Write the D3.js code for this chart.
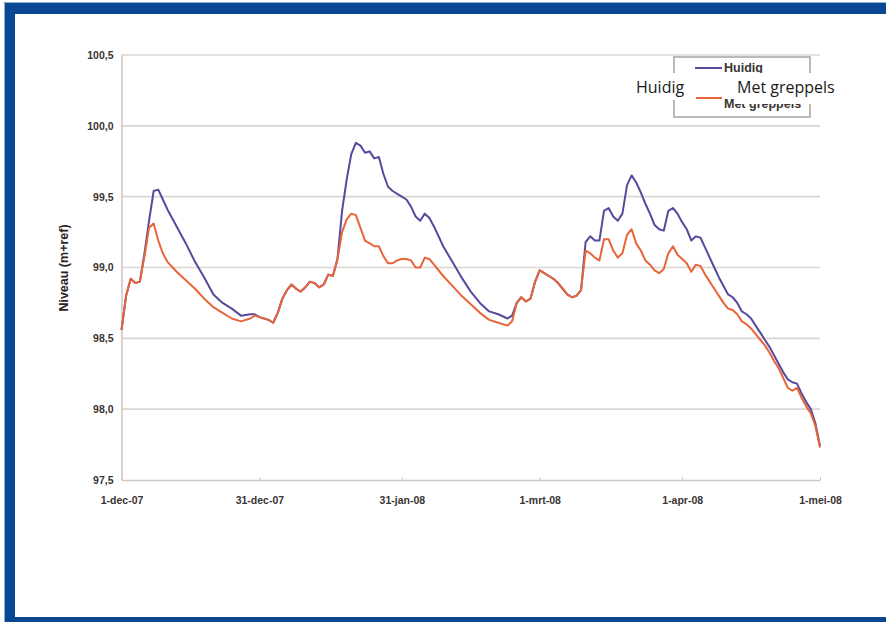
<!DOCTYPE html>
<html>
<head>
<meta charset="utf-8">
<script src="https://cdn.jsdelivr.net/npm/d3@7"></script>
<style>
  html, body { margin: 0; padding: 0; background: #fff; }
  svg { display: block; }
</style>
</head>
<body>
<svg id="chart" width="886" height="622"></svg>
<script>
// ---- data ----
const startDate = "2007-12-01";
const dayOffsets = [0,1,2,3,4,5,6,7,8,9,10,12,14,16,18,20,22,24,26,28,29,30,31,32,33,34,35,36,37,38,39,40,41,42,43,44,45,46,47,48,49,50,51,52,53,54,55,56,57,58,59,60,61,62,63,64,65,66,67,68,70,72,74,76,78,80,82,84,85,86,87,88,89,90,91,92,93,94,95,96,97,98,99,100,101,102,103,104,105,106,107,108,109,110,111,112,113,114,115,116,117,118,119,120,121,122,123,124,125,126,127,128,129,130,131,132,133,134,135,136,137,138,139,140,141,142,143,144,145,146,147,148,149,150,151,152];
const huidig = [98.56,98.80,98.92,98.89,98.90,99.10,99.33,99.54,99.55,99.48,99.41,99.29,99.17,99.04,98.93,98.81,98.75,98.71,98.66,98.67,98.67,98.65,98.64,98.63,98.61,98.68,98.78,98.84,98.88,98.85,98.83,98.86,98.90,98.89,98.86,98.88,98.95,98.94,99.06,99.40,99.62,99.80,99.88,99.86,99.81,99.82,99.77,99.78,99.66,99.57,99.54,99.52,99.50,99.48,99.43,99.36,99.33,99.38,99.35,99.29,99.15,99.04,98.93,98.83,98.75,98.69,98.67,98.64,98.66,98.75,98.79,98.76,98.78,98.90,98.98,98.96,98.94,98.92,98.89,98.85,98.81,98.79,98.80,98.84,99.18,99.22,99.19,99.19,99.40,99.42,99.36,99.33,99.38,99.58,99.65,99.60,99.53,99.45,99.38,99.30,99.27,99.26,99.40,99.42,99.38,99.32,99.27,99.19,99.22,99.21,99.14,99.07,99.00,98.93,98.87,98.81,98.79,98.75,98.69,98.67,98.64,98.59,98.54,98.49,98.44,98.38,98.32,98.26,98.21,98.19,98.18,98.11,98.05,98.00,97.90,97.74];
const metGreppels = [98.56,98.80,98.92,98.89,98.90,99.08,99.28,99.31,99.19,99.10,99.04,98.97,98.91,98.85,98.78,98.72,98.68,98.64,98.62,98.64,98.66,98.65,98.64,98.63,98.61,98.68,98.78,98.84,98.88,98.85,98.83,98.86,98.90,98.89,98.86,98.88,98.95,98.94,99.06,99.25,99.34,99.38,99.37,99.28,99.19,99.17,99.15,99.15,99.08,99.03,99.03,99.05,99.06,99.06,99.05,99.00,99.00,99.07,99.06,99.02,98.94,98.87,98.80,98.74,98.68,98.63,98.61,98.59,98.62,98.75,98.79,98.76,98.78,98.90,98.98,98.96,98.94,98.92,98.89,98.85,98.81,98.79,98.80,98.84,99.12,99.10,99.07,99.05,99.20,99.20,99.12,99.07,99.10,99.23,99.27,99.17,99.12,99.05,99.02,98.98,98.96,98.99,99.10,99.15,99.09,99.06,99.03,98.97,99.02,99.01,98.95,98.90,98.85,98.80,98.75,98.71,98.70,98.67,98.62,98.60,98.57,98.53,98.49,98.45,98.40,98.34,98.29,98.22,98.15,98.13,98.15,98.08,98.02,97.97,97.88,97.73];
const seriesNames = ["Huidig", "Met greppels"];
const yTicks = [97.5, 98.0, 98.5, 99.0, 99.5, 100.0, 100.5];
const xTickDates = ["2007-12-01","2007-12-31","2008-01-31","2008-03-01","2008-04-01","2008-05-01"];
const xTickLabels = ["1-dec-07","31-dec-07","31-jan-08","1-mrt-08","1-apr-08","1-mei-08"];
const yTitle = "Niveau (m+ref)";

// ---- drawing ----
const svg = d3.select("#chart");
const parse = d3.utcParse("%Y-%m-%d");
const t0 = parse(startDate);
const dates = dayOffsets.map(d => d3.utcDay.offset(t0, d));

// frame
svg.append("rect").attr("x", 4).attr("y", 2).attr("width", 882).attr("height", 12).attr("fill", "#074793");
svg.append("rect").attr("x", 4).attr("y", 2).attr("width", 11).attr("height", 620).attr("fill", "#074793");
svg.append("rect").attr("x", 4).attr("y", 617).attr("width", 882).attr("height", 5).attr("fill", "#074793");
svg.append("path").attr("d", "M4.5,622 V2.5 H886").attr("fill", "none").attr("stroke", "#8fb0d6").attr("stroke-width", 1);

const x = d3.scaleUtc().domain([parse(xTickDates[0]), parse(xTickDates[xTickDates.length - 1])]).range([121.5, 820]);
const y = d3.scaleLinear().domain([97.5, 100.5]).range([480, 55]);

const fmt = v => d3.format(".1f")(v).replace(".", ",");

// gridlines
svg.append("g").selectAll("line").data(yTicks.slice(1)).join("line")
  .attr("x1", 121.5).attr("x2", 820)
  .attr("y1", d => y(d)).attr("y2", d => y(d))
  .attr("stroke", "#dcd6d3").attr("stroke-width", 1.6);

// y axis
const yAxis = svg.append("g").attr("transform", "translate(121.5,0)")
  .call(d3.axisLeft(y).tickValues(yTicks).tickFormat(fmt).tickSize(0).tickPadding(8));
yAxis.select(".domain").attr("stroke", "#cfc8c4").attr("stroke-width", 1.6);
yAxis.selectAll("text").attr("font-family", "Liberation Sans, Arial, sans-serif")
  .attr("font-size", 10.5).attr("font-weight", "bold").attr("fill", "#3a3432");

// x axis
const xAxis = svg.append("g").attr("transform", "translate(0,480)")
  .call(d3.axisBottom(x).tickValues(xTickDates.map(parse))
    .tickFormat((d, i) => xTickLabels[i]).tickSizeInner(-3).tickSizeOuter(0).tickPadding(17));
xAxis.select(".domain").attr("stroke", "#cfc8c4").attr("stroke-width", 1.6);
xAxis.selectAll(".tick line").attr("stroke", "#cfc8c4");
xAxis.selectAll("text").attr("font-family", "Liberation Sans, Arial, sans-serif")
  .attr("font-size", 10.5).attr("font-weight", "bold").attr("fill", "#3a3432");

// y title
svg.append("text")
  .attr("transform", "translate(68,268) rotate(-90)")
  .attr("text-anchor", "middle")
  .attr("font-family", "Liberation Sans, Arial, sans-serif")
  .attr("font-size", 12.5).attr("font-weight", "bold").attr("fill", "#2a2422")
  .text(yTitle);

// lines
const line = vals => d3.line().x((d, i) => x(dates[i])).y(d => y(d))(vals);
svg.append("path").attr("d", line(huidig)).attr("fill", "none")
  .attr("stroke", "#574a9c").attr("stroke-width", 2).attr("stroke-linejoin", "round");
svg.append("path").attr("d", line(metGreppels)).attr("fill", "none")
  .attr("stroke", "#e8653a").attr("stroke-width", 2).attr("stroke-linejoin", "round");

// legend
const lg = svg.append("g");
lg.append("rect").attr("x", 674).attr("y", 57).attr("width", 136).attr("height", 60)
  .attr("fill", "#fff").attr("stroke", "#a8a2a0").attr("stroke-width", 1.5);
lg.append("line").attr("x1", 695).attr("x2", 722).attr("y1", 68).attr("y2", 68)
  .attr("stroke", "#574a9c").attr("stroke-width", 2);
lg.append("line").attr("x1", 695).attr("x2", 722).attr("y1", 98).attr("y2", 98)
  .attr("stroke", "#e8653a").attr("stroke-width", 2);
lg.append("text").attr("x", 724).attr("y", 72).text(seriesNames[0])
  .attr("font-family", "Liberation Sans, Arial, sans-serif").attr("font-size", 12.5)
  .attr("font-weight", "bold").attr("fill", "#3a3432");
lg.append("text").attr("x", 724).attr("y", 108).text(seriesNames[1])
  .attr("font-family", "Liberation Sans, Arial, sans-serif").attr("font-size", 12.5)
  .attr("font-weight", "bold").attr("fill", "#3a3432");
// overlay labels
lg.append("rect").attr("x", 633).attr("y", 73).attr("width", 63).attr("height", 27).attr("fill", "#fff");
lg.append("rect").attr("x", 735).attr("y", 73).attr("width", 104).attr("height", 31).attr("fill", "#fff");
lg.append("text").attr("x", 636).attr("y", 93).text(seriesNames[0])
  .attr("font-family", "Open Sans, sans-serif").attr("font-size", 16).attr("fill", "#1a1a1a");
lg.append("text").attr("x", 737).attr("y", 93).text(seriesNames[1])
  .attr("font-family", "Open Sans, sans-serif").attr("font-size", 16).attr("fill", "#1a1a1a");
</script>
</body>
</html>
